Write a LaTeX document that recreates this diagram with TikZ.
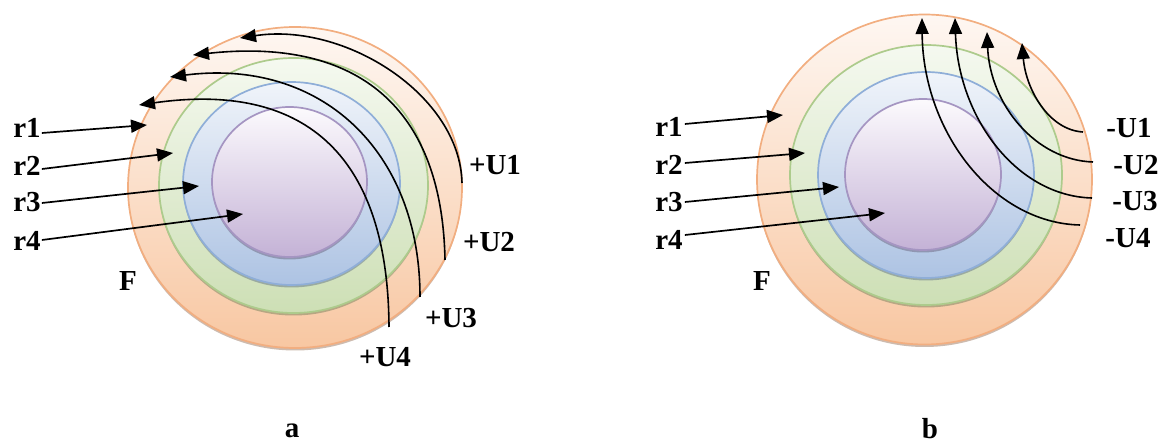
\documentclass[tikz,border=0pt]{standalone}
\usepackage{fontspec}
\setmainfont{Liberation Serif}
\usetikzlibrary{arrows.meta}
\definecolor{orS}{HTML}{F2AE80}
\definecolor{orT}{HTML}{FEF7F2}
\definecolor{orB}{HTML}{F8C7A2}
\definecolor{grS}{HTML}{ADCB8C}
\definecolor{grT}{HTML}{F5F9F0}
\definecolor{grB}{HTML}{CDDFB5}
\definecolor{blS}{HTML}{8FAED8}
\definecolor{blT}{HTML}{F0F4FA}
\definecolor{blB}{HTML}{ADC3E3}
\definecolor{puS}{HTML}{A595C2}
\definecolor{puT}{HTML}{FCFAFD}
\definecolor{puB}{HTML}{C4B2D6}
% #1 x, #2 y, #3 rx, #4 ry, #5 stroke, #6 top, #7 bottom
\newcommand\ringlayer[7]{%
  \fill[#5!60!black, opacity=0.45] (#1,#2+2.5) ellipse [x radius=#3pt, y radius=#4pt];
  \draw[#5, line width=1.7pt, top color=#6, bottom color=#7] (#1,#2) ellipse [x radius=#3pt, y radius=#4pt];
}
\begin{document}
\begin{tikzpicture}[x=1pt,y=-1pt,
  lbl/.style={font=\fontsize{29}{32}\selectfont\bfseries, inner sep=0pt},
  arr/.style={line width=1.7pt, -{Triangle[length=16pt,width=13pt]}},
  carr/.style={line width=1.6pt, -{Triangle[length=16pt,width=13pt]}}]
\useasboundingbox (0,0) rectangle (1165,443);

% ---------- panel a : rings ----------
\ringlayer{295}{187.5}{167}{160.5}{orS}{orT}{orB}
\ringlayer{293.5}{185.5}{134.5}{127.5}{grS}{grT}{grB}
\ringlayer{291.5}{183.5}{108.5}{101.5}{blS}{blT}{blB}
\ringlayer{289.5}{182}{77.5}{75}{puS}{puT}{puB}

% ---------- panel b : rings ----------
\ringlayer{924.5}{179.5}{167.5}{165}{orS}{orT}{orB}
\ringlayer{926}{175}{136}{130}{grS}{grT}{grB}
\ringlayer{926}{175}{108}{103}{blS}{blT}{blB}
\ringlayer{923}{174.5}{78}{75.5}{puS}{puT}{puB}

% ---------- panel a : labels ----------
\node[lbl] (ar1) at (27,128) {r1};
\node[lbl] (ar2) at (27,166) {r2};
\node[lbl] (ar3) at (27,202) {r3};
\node[lbl] (ar4) at (27,241) {r4};
\node[lbl] (aF) at (128,281) {F};
\node[lbl] (aU1) at (495,165) {+U1};
\node[lbl] (aU2) at (489,242) {+U2};
\node[lbl] (aU3) at (451,318) {+U3};
\node[lbl] (aU4) at (385,357) {+U4};
\node[lbl] (la) at (292,431) {a};

\coordinate (ar1t) at (147,125);
\coordinate (ar2t) at (173,153);
\coordinate (ar3t) at (199,186);
\coordinate (ar4t) at (243,214);
\draw[arr] ([xshift=1pt,yshift=-5pt]ar1.east) -- (ar1t);
\draw[arr] ([xshift=1pt,yshift=-3pt]ar2.east) -- (ar2t);
\draw[arr] ([xshift=1pt,yshift=-1pt]ar3.east) -- (ar3t);
\draw[arr] ([xshift=1pt,yshift=1pt]ar4.east) -- (ar4t);

\coordinate (aU1s) at (462,183);
\coordinate (aU1t) at (240,38);
\coordinate (aU2s) at (445,260);
\coordinate (aU2t) at (193,55);
\coordinate (aU3s) at (420,297);
\coordinate (aU3t) at (170,77);
\coordinate (aU4s) at (389,327);
\coordinate (aU4t) at (139,105);
\draw[carr] (aU1s) .. controls (460,95) and (345,22) .. (aU1t);
\draw[carr] (aU2s) .. controls (442,100) and (350,38) .. (aU2t);
\draw[carr] (aU3s) .. controls (420,150) and (320,58) .. (aU3t);
\draw[carr] (aU4s) .. controls (388,150) and (300,82) .. (aU4t);

% ---------- panel b : labels ----------
\node[lbl] (br1) at (669,127) {r1};
\node[lbl] (br2) at (669,165) {r2};
\node[lbl] (br3) at (669,202) {r3};
\node[lbl] (br4) at (669,240) {r4};
\node[lbl] (bF) at (762,281) {F};
\node[lbl] (bU1) at (1129,128) {-U1};
\node[lbl] (bU2) at (1136,165) {-U2};
\node[lbl] (bU3) at (1135,201) {-U3};
\node[lbl] (bU4) at (1128,238) {-U4};
\node[lbl] (lb) at (930,429) {b};

\coordinate (br1t) at (783,115);
\coordinate (br2t) at (805,153);
\coordinate (br3t) at (839,187);
\coordinate (br4t) at (885,213);
\draw[arr] ([xshift=2pt,yshift=3pt]br1.east) -- (br1t);
\draw[arr] ([xshift=2pt,yshift=2pt]br2.east) -- (br2t);
\draw[arr] ([xshift=2pt,yshift=0pt]br3.east) -- (br3t);
\draw[arr] ([xshift=2pt,yshift=5pt]br4.east) -- (br4t);

\coordinate (bU1s) at (1083,132);
\coordinate (bU1t) at (1022,43);
\coordinate (bU2s) at (1093,162);
\coordinate (bU2t) at (987,32);
\coordinate (bU3s) at (1092,198);
\coordinate (bU3t) at (955,18);
\coordinate (bU4s) at (1080,225);
\coordinate (bU4t) at (922,18);
\draw[carr] (bU1s) .. controls (1049,130) and (1026,90) .. (bU1t);
\draw[carr] (bU2s) .. controls (1035,160) and (990,104) .. (bU2t);
\draw[carr] (bU3s) .. controls (1016,196) and (958,117) .. (bU3t);
\draw[carr] (bU4s) .. controls (993,223) and (923,132) .. (bU4t);
\end{tikzpicture}
\end{document}
